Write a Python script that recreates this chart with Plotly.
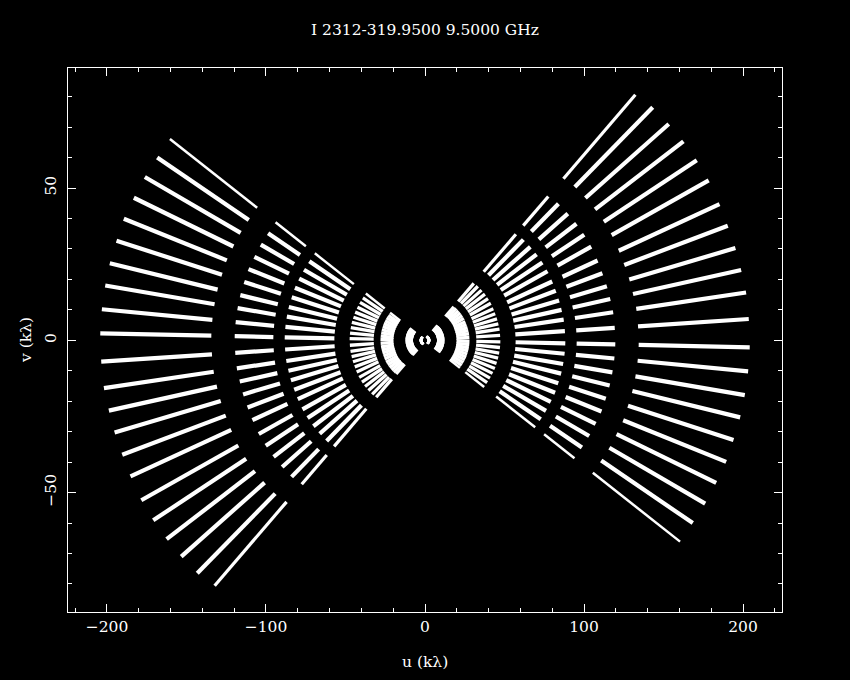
import plotly.graph_objects as go

# Outer edge of the longest-baseline uv track (kλ), one point per time sample (left half of the plane)
track_u = [-160.4, -168.4, -176.2, -183.1, -189.4, -194.0, -198.2, -201.1, -203.2, -204.2, -203.6,
           -201.9, -198.8, -195.2, -190.4, -185.2, -178.4, -170.9, -162.5, -153.3, -143.2, -132.3]
track_v = [66.1, 60.0, 53.6, 46.8, 39.9, 32.7, 25.3, 18.0, 10.2, 2.3, -7.0,
           -15.7, -23.1, -30.3, -37.6, -44.7, -52.5, -59.1, -65.3, -71.0, -76.5, -80.6]

# Each baseline group: outer / inner radial extent relative to the track above (frequency coverage)
ring_outer = [1.000, 0.586, 0.432, 0.232, 0.137, 0.060, 0.016]
ring_inner = [0.658, 0.467, 0.279, 0.158, 0.097, 0.037, 0.008]

title_text = "I 2312-319.9500 9.5000 GHz"
x_title = "u (kλ)"
y_title = "v (kλ)"

n = len(track_u)


def seg_width(k, j):
    # first time sample drawn thinner; inner (short-baseline) groups a bit thinner
    if k == 0:
        return 2.5
    if k == n - 1:
        return 3.2
    return 4.2 if j < 3 else 3.3


groups = {}
for k in range(n):
    for j, (so, si) in enumerate(zip(ring_outer, ring_inner)):
        w = seg_width(k, j)
        xs, ys = groups.setdefault(w, ([], []))
        # sample and its conjugate (-u, -v)
        for sgn in (1, -1):
            xs += [sgn * so * track_u[k], sgn * si * track_u[k], None]
            ys += [sgn * so * track_v[k], sgn * si * track_v[k], None]

fig = go.Figure()
for w, (xs, ys) in groups.items():
    fig.add_trace(go.Scatter(x=xs, y=ys, mode="lines", line=dict(color="white", width=w),
                             hoverinfo="skip", connectgaps=False))

FONT = "DejaVu Serif"
axis_common = dict(showgrid=False, zeroline=False, showline=True, linecolor="white", linewidth=1,
                   mirror="allticks", ticks="inside", ticklen=8, tickwidth=1, tickcolor="white",
                   tickfont=dict(family=FONT, size=15.5, color="white"))

fig.update_layout(
    width=850, height=680,
    margin=dict(l=68, r=68, t=68, b=68),
    paper_bgcolor="black", plot_bgcolor="black",
    showlegend=False,
    font=dict(family=FONT, color="white", size=15.5),
    title=dict(text=title_text, x=0.5, xref="paper", xanchor="center",
               y=1 - 30 / 680, yref="container", yanchor="middle",
               font=dict(family=FONT, size=15.5, color="white")),
    xaxis=dict(range=[-224.5, 224.5], tick0=0, dtick=100,
               minor=dict(dtick=20, tick0=0, ticklen=4, ticks="inside", tickcolor="white", tickwidth=1,
                          showgrid=False),
               **axis_common),
    yaxis=dict(range=[-89.2, 89.4], tick0=0, dtick=50, tickangle=-90, ticklabelstandoff=5,
               minor=dict(dtick=10, tick0=0, ticklen=4, ticks="inside", tickcolor="white", tickwidth=1,
                          showgrid=False),
               **axis_common),
    annotations=[
        dict(text=x_title, xref="paper", yref="paper", x=0.5, y=0, xanchor="center", yanchor="middle",
             yshift=-50, showarrow=False, font=dict(family=FONT, size=15.5, color="white")),
        dict(text=y_title, xref="paper", yref="paper", x=0, y=0.5, xanchor="center", yanchor="middle",
             xshift=-42, textangle=-90, showarrow=False, font=dict(family=FONT, size=15.5, color="white")),
    ],
)

fig.write_html("out.html")
